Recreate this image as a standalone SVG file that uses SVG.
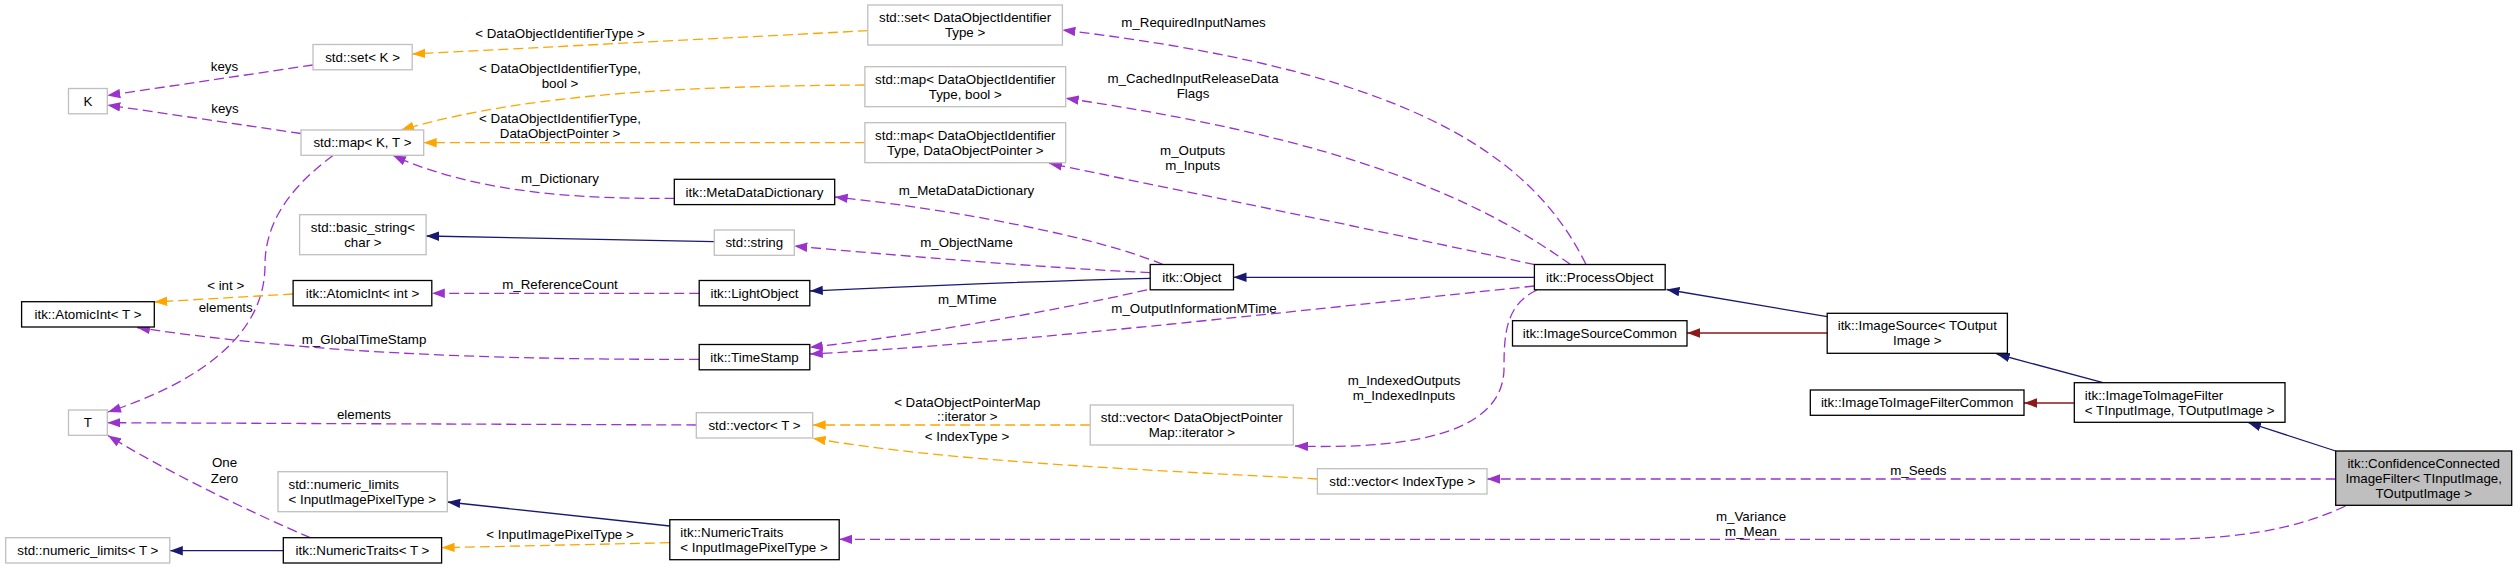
<svg xmlns="http://www.w3.org/2000/svg" width="2517" height="569" viewBox="0 0 2517 569">
<style>
text{font-family:"Liberation Sans",Arial,Helvetica,sans-serif;font-size:13.33px;fill:#000}
.c{text-anchor:middle}
.g rect{fill:#fff;stroke:#bfbfbf;stroke-width:1.3}
.b rect{fill:#fff;stroke:#000;stroke-width:1.3}
.f rect{fill:#bfbfbf;stroke:#000;stroke-width:1.3}
.e path{fill:none;stroke-width:1.3}
.p path{stroke:#9a32cd;stroke-dasharray:10,5;marker-end:url(#ap)}
.o path{stroke:#ffa500;stroke-dasharray:10,5;marker-end:url(#ao)}
.m path{stroke:#191970;marker-end:url(#am)}
.r path{stroke:#8b1a1a;marker-end:url(#ar)}
</style>
<defs>
<marker id="ap" viewBox="0 0 13 10" refX="13" refY="5" markerWidth="13" markerHeight="10" markerUnits="userSpaceOnUse" orient="auto"><path d="M0,0.3L13,5L0,9.7z" fill="#9a32cd"/></marker>
<marker id="ao" viewBox="0 0 13 10" refX="13" refY="5" markerWidth="13" markerHeight="10" markerUnits="userSpaceOnUse" orient="auto"><path d="M0,0.3L13,5L0,9.7z" fill="#ffa500"/></marker>
<marker id="am" viewBox="0 0 13 10" refX="13" refY="5" markerWidth="13" markerHeight="10" markerUnits="userSpaceOnUse" orient="auto"><path d="M0,0.3L13,5L0,9.7z" fill="#191970"/></marker>
<marker id="ar" viewBox="0 0 13 10" refX="13" refY="5" markerWidth="13" markerHeight="10" markerUnits="userSpaceOnUse" orient="auto"><path d="M0,0.3L13,5L0,9.7z" fill="#8b1a1a"/></marker>
</defs>
<rect width="2517" height="569" fill="#fff"/>
<g id="connectors">
<g class="e p"><path d="M313,65L107.3,95.5"/><text class="c" x="224.5" y="71">keys</text></g>
<g class="e p"><path d="M301,133.5L107.3,105"/><text class="c" x="225" y="112.7">keys</text></g>
<g class="e p"><path d="M333,155.5C300,180 265,215 265,265C265,340 190,385 108,412"/><text class="c" x="225.7" y="311.7">elements</text></g>
<g class="e o"><path d="M867.8,30.7L412.2,54"/><text class="c" x="560" y="38.3">&lt; DataObjectIdentifierType &gt;</text></g>
<g class="e o"><path d="M864.9,85C700,86 530,92 401,130"/><text class="c" x="560" y="73.3">&lt; DataObjectIdentifierType,</text><text class="c" x="560" y="88">bool &gt;</text></g>
<g class="e o"><path d="M864.9,142.7L423.7,142.7"/><text class="c" x="560" y="123.3">&lt; DataObjectIdentifierType,</text><text class="c" x="560" y="138.3">DataObjectPointer &gt;</text></g>
<g class="e p"><path d="M674.3,198.3C590,199 480,195 393,155.5"/><text class="c" x="560" y="182.7">m_Dictionary</text></g>
<g class="e m"><path d="M714.3,241.7L426.1,236"/></g>
<g class="e p"><path d="M699.2,293.3L431.8,293.3"/><text class="c" x="560" y="289">m_ReferenceCount</text></g>
<g class="e o"><path d="M293.1,294L154.3,302"/><text class="c" x="225.7" y="290">&lt; int &gt;</text></g>
<g class="e p"><path d="M699.2,359.3C480,360 300,352 137,327.5"/><text class="c" x="364" y="344">m_GlobalTimeStamp</text></g>
<g class="e p"><path d="M1150.2,272.7C1050,268 900,256 794.3,246"/><text class="c" x="966.5" y="246.7">m_ObjectName</text></g>
<g class="e p"><path d="M1163,264.5C1100,238 960,210 834.7,197"/><text class="c" x="966.5" y="195">m_MetaDataDictionary</text></g>
<g class="e m"><path d="M1150.2,278.3C1000,282 900,287 809.8,291"/></g>
<g class="e p"><path d="M1147,289.8C1060,310 900,338 809.8,347.3"/><text class="c" x="967.3" y="303.7">m_MTime</text></g>
<g class="e m"><path d="M1534.4,277.3L1233.5,277.3"/></g>
<g class="e p"><path d="M1534.4,286C1350,305 1000,345 809.8,354"/><text class="c" x="1194" y="312.7">m_OutputInformationMTime</text></g>
<g class="e p"><path d="M1586,264.5C1530,150 1400,70 1062.4,30"/><text class="c" x="1193.5" y="26.7">m_RequiredInputNames</text></g>
<g class="e p"><path d="M1570.5,264.5C1480,200 1350,140 1065.7,98.3"/><text class="c" x="1193" y="83.3">m_CachedInputReleaseData</text><text class="c" x="1193" y="98.3">Flags</text></g>
<g class="e p"><path d="M1534.8,264.7C1400,235 1250,205 1049,163.3"/><text class="c" x="1192.7" y="155">m_Outputs</text><text class="c" x="1192.7" y="169.5">m_Inputs</text></g>
<g class="e p"><path d="M1537,290C1505,305 1504,335 1504,370C1502,430 1420,450 1295,446"/><text class="c" x="1404" y="384.7">m_IndexedOutputs</text><text class="c" x="1404" y="399.7">m_IndexedInputs</text></g>
<g class="e o"><path d="M1090.2,425L812.7,425"/><text class="c" x="967.3" y="406.7">&lt; DataObjectPointerMap</text><text class="c" x="967.3" y="420.7">::iterator &gt;</text></g>
<g class="e o"><path d="M1317.4,479C1150,470 950,462 812.7,438.3"/><text class="c" x="967" y="440.7">&lt; IndexType &gt;</text></g>
<g class="e p"><path d="M696.3,425L107.3,422.7"/><text class="c" x="364" y="419">elements</text></g>
<g class="e m"><path d="M1827.2,316.7L1666.5,289.5"/></g>
<g class="e r"><path d="M1827.2,333L1687,333"/></g>
<g class="e m"><path d="M2103,382.7L1996.7,354"/></g>
<g class="e r"><path d="M2074.3,403L2024,403"/></g>
<g class="e m"><path d="M2335.7,451L2248,422.5"/></g>
<g class="e p"><path d="M2335.7,479L1487,479"/><text class="c" x="1918.3" y="474.7">m_Seeds</text></g>
<g class="e p"><path d="M2345.5,506C2290,532 2230,539.3 2150,539.3L839.2,539.3"/><text class="c" x="1751" y="521">m_Variance</text><text class="c" x="1751" y="536">m_Mean</text></g>
<g class="e o"><path d="M669.8,542.7L441.6,547.7"/><text class="c" x="560" y="539">&lt; InputImagePixelType &gt;</text></g>
<g class="e m"><path d="M669.8,526L447.3,502"/></g>
<g class="e m"><path d="M283.3,550.7L169.8,550.7"/></g>
<g class="e p"><path d="M310.2,537.7C250,512 160,468 108,435.5"/><text class="c" x="224.5" y="467.3">One</text><text class="c" x="224.5" y="482.7">Zero</text></g>
</g>
<g id="n_K" class="g"><rect x="68.5" y="88.5" width="38.8" height="25.3"/><text class="c" x="87.9" y="105.6">K</text></g>
<g id="n_T" class="g"><rect x="68.5" y="410" width="38.8" height="25.3"/><text class="c" x="87.9" y="427">T</text></g>
<g id="n_setK" class="g"><rect x="313" y="44.5" width="99.2" height="25.3"/><text class="c" x="362.6" y="61.6">std::set&lt; K &gt;</text></g>
<g id="n_mapKT" class="g"><rect x="301" y="130" width="122.7" height="25.3"/><text class="c" x="362.4" y="147">std::map&lt; K, T &gt;</text></g>
<g id="n_basic_string" class="g"><rect x="299.6" y="214.7" width="126.5" height="40"/><text class="c" x="362.9" y="231.7">std::basic_string&lt;</text><text class="c" x="362.9" y="246.7">char &gt;</text></g>
<g id="n_atomic_int" class="b"><rect x="293.1" y="280.5" width="138.7" height="25.3"/><text class="c" x="362.5" y="297.7">itk::AtomicInt&lt; int &gt;</text></g>
<g id="n_atomic_T" class="b"><rect x="21.6" y="301.7" width="132.7" height="25.3"/><text class="c" x="88" y="318.9">itk::AtomicInt&lt; T &gt;</text></g>
<g id="n_numlim_iipt" class="g"><rect x="278" y="471.7" width="169.3" height="40"/><text x="288.5" y="488.7">std::numeric_limits</text><text x="288.5" y="503.7">&lt; InputImagePixelType &gt;</text></g>
<g id="n_numlim_T" class="g"><rect x="5.7" y="537.7" width="164.1" height="25.3"/><text class="c" x="87.8" y="554.9">std::numeric_limits&lt; T &gt;</text></g>
<g id="n_numtraits_T" class="b"><rect x="283.3" y="537.7" width="158.3" height="25.3"/><text class="c" x="362.5" y="554.9">itk::NumericTraits&lt; T &gt;</text></g>
<g id="n_set_doi" class="g"><rect x="867.8" y="5" width="194.6" height="40"/><text class="c" x="965.1" y="22">std::set&lt; DataObjectIdentifier</text><text class="c" x="965.1" y="37">Type &gt;</text></g>
<g id="n_map_doi_bool" class="g"><rect x="864.9" y="66.7" width="200.8" height="40"/><text class="c" x="965.3" y="83.7">std::map&lt; DataObjectIdentifier</text><text class="c" x="965.3" y="98.7">Type, bool &gt;</text></g>
<g id="n_map_doi_dop" class="g"><rect x="864.9" y="122.7" width="200.8" height="40"/><text class="c" x="965.3" y="139.7">std::map&lt; DataObjectIdentifier</text><text class="c" x="965.3" y="154.7">Type, DataObjectPointer &gt;</text></g>
<g id="n_mdd" class="b"><rect x="674.3" y="179.3" width="160.4" height="25.3"/><text class="c" x="754.5" y="196.5">itk::MetaDataDictionary</text></g>
<g id="n_string" class="g"><rect x="714.3" y="230" width="80" height="25.3"/><text class="c" x="754.3" y="247.2">std::string</text></g>
<g id="n_object" class="b"><rect x="1150.2" y="264.5" width="83.3" height="25.3"/><text class="c" x="1191.9" y="281.7">itk::Object</text></g>
<g id="n_lightobject" class="b"><rect x="699.2" y="280.5" width="110.6" height="25.3"/><text class="c" x="754.5" y="297.7">itk::LightObject</text></g>
<g id="n_timestamp" class="b"><rect x="699.2" y="344.5" width="110.6" height="25.3"/><text class="c" x="754.5" y="361.7">itk::TimeStamp</text></g>
<g id="n_vector_T" class="g"><rect x="696.3" y="412.7" width="116.4" height="25.3"/><text class="c" x="754.5" y="429.9">std::vector&lt; T &gt;</text></g>
<g id="n_vector_dopmap" class="g"><rect x="1090.2" y="405" width="203.1" height="40"/><text class="c" x="1191.8" y="422">std::vector&lt; DataObjectPointer</text><text class="c" x="1191.8" y="437">Map::iterator &gt;</text></g>
<g id="n_numtraits_iipt" class="b"><rect x="669.8" y="519.7" width="169.4" height="40"/><text x="680.3" y="536.7">itk::NumericTraits</text><text x="680.3" y="551.7">&lt; InputImagePixelType &gt;</text></g>
<g id="n_processobject" class="b"><rect x="1534.4" y="264.5" width="130.8" height="25.3"/><text class="c" x="1599.8" y="281.7">itk::ProcessObject</text></g>
<g id="n_imagesourcecommon" class="b"><rect x="1512.5" y="320.7" width="174.5" height="25.3"/><text class="c" x="1599.8" y="337.9">itk::ImageSourceCommon</text></g>
<g id="n_imagesource" class="b"><rect x="1827.2" y="313.3" width="180.2" height="40"/><text class="c" x="1917.3" y="330.3">itk::ImageSource&lt; TOutput</text><text class="c" x="1917.3" y="345.3">Image &gt;</text></g>
<g id="n_vector_indextype" class="g"><rect x="1317.4" y="468.7" width="169.6" height="25.3"/><text class="c" x="1402.2" y="485.9">std::vector&lt; IndexType &gt;</text></g>
<g id="n_iifcommon" class="b"><rect x="1810.3" y="390" width="213.7" height="25.3"/><text class="c" x="1917.2" y="407.2">itk::ImageToImageFilterCommon</text></g>
<g id="n_iif" class="b"><rect x="2074.3" y="382.7" width="210.7" height="39.6"/><text x="2084.8" y="399.5">itk::ImageToImageFilter</text><text x="2084.8" y="414.5">&lt; TInputImage, TOutputImage &gt;</text></g>
<g id="n_ccif" class="f"><rect x="2335.7" y="451" width="176" height="54.3"/><text class="c" x="2423.7" y="467.7">itk::ConfidenceConnected</text><text class="c" x="2423.7" y="482.7">ImageFilter&lt; TInputImage,</text><text class="c" x="2423.7" y="497.7">TOutputImage &gt;</text></g>
</svg>
